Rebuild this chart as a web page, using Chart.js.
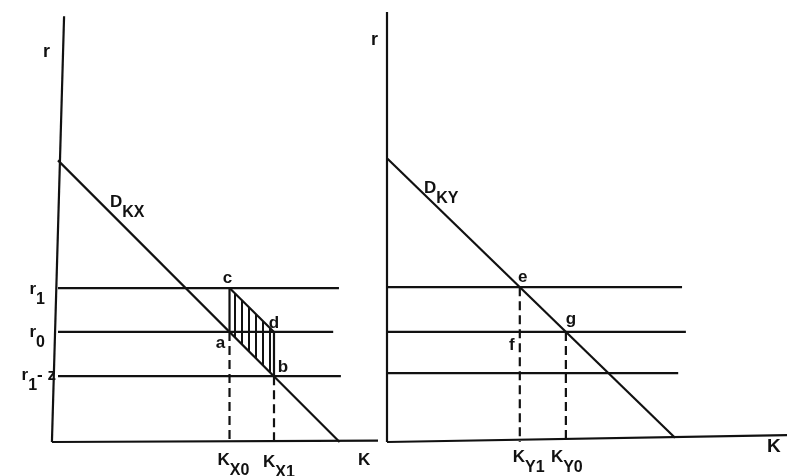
<!DOCTYPE html>
<html>
<head>
<meta charset="utf-8">
<script src="https://cdn.jsdelivr.net/npm/chart.js@4/dist/chart.umd.min.js"></script>
<style>
    html, body { margin: 0; padding: 0; background: #fff; }
    .panel { position: absolute; top: 0; }
    #left { left: 0; width: 394px; height: 476px; }
    #right { left: 360px; width: 428px; height: 476px; }
</style>
</head>
<body>
<div class="panel" id="left"><canvas id="chartX" width="394" height="476"></canvas></div>
<div class="panel" id="right"><canvas id="chartY" width="428" height="476"></canvas></div>
<script>
// left panel, industry X (K on x, r on y)
const xAxisV = [[-0.19, 0], [0.19, 9.9]];
const xAxisH = [[-0.19, 0], [10, 0.03]];
const xRLevels = [3.58, 2.56, 1.53];      // r1, r0, r1 - z
const xRLineEnds = [8.78, 8.6, 8.84];
const xDemand = [[0, 6.55], [8.8, 0]];    // D_KX
const xK = [5.36, 6.75];                  // K_X0, K_X1

// right panel, industry Y
const yAxisV = [[0, 0], [0, 10]];
const yAxisH = [[0, 0], [12.5, 0.16]];
const yRLevels = [3.6, 2.56, 1.6];
const yRLineEnds = [9.22, 9.34, 9.1];
const yDemand = [[0, 6.6], [9.0, 0.1]];   // D_KY
const yK = [4.15, 5.59];                  // K_Y1, K_Y0

const INK = '#111';
const FONT = '"Liberation Sans", Arial, sans-serif';

function pts(list) {
    return list.map((p) => ({ x: p[0], y: p[1] }));
}

function seg(data, opts) {
    return Object.assign({
        data: pts(data),
        showLine: true,
        borderColor: INK,
        borderWidth: 2.2,
        pointRadius: 0,
        fill: false,
        clip: false,
    }, opts || {});
}

function hatchPattern() {
    const pc = document.createElement('canvas');
    pc.width = 7;
    pc.height = 8;
    const c = pc.getContext('2d');
    c.fillStyle = INK;
    c.fillRect(3, 0, 2, 8);
    return c.createPattern(pc, 'repeat');
}

// labels: anchor in data units, pixel nudge, then text parts [text, isSub]
const labelPlugin = {
    id: 'labels',
    afterDatasetsDraw(chart, args, opts) {
        const ctx = chart.ctx;
        const { x, y } = chart.scales;
        ctx.save();
        ctx.fillStyle = INK;
        ctx.textBaseline = 'alphabetic';
        ctx.textAlign = 'left';
        opts.items.forEach((it) => {
            const size = it.size || 17;
            const main = `bold ${size}px ${FONT}`;
            const sub = `bold ${size - 1}px ${FONT}`;
            let total = 0;
            it.parts.forEach((p) => {
                ctx.font = p[1] ? sub : main;
                total += ctx.measureText(p[0]).width;
            });
            let px = x.getPixelForValue(it.at[0]) + it.dx;
            const py = y.getPixelForValue(it.at[1]) + it.dy;
            if (it.align === 'center') px -= total / 2;
            if (it.align === 'right') px -= total;
            it.parts.forEach((p) => {
                ctx.font = p[1] ? sub : main;
                ctx.fillText(p[0], px, py + (p[1] ? 10 : 0));
                px += ctx.measureText(p[0]).width;
            });
        });
        ctx.restore();
    },
};

function baseOptions(xMax, labels) {
    return {
        responsive: false,
        animation: false,
        events: [],
        layout: { padding: 0 },
        scales: {
            x: { type: 'linear', min: -0.5, max: xMax, display: false },
            y: { type: 'linear', min: 0, max: 10, display: false },
        },
        plugins: {
            legend: { display: false },
            tooltip: { enabled: false },
            labels: { items: labels },
        },
    };
}

function initLeft() {
    const [r1, r0, r1z] = xRLevels;
    const [k0, k1] = xK;
    const dashed = { borderDash: [9, 5] };
    const datasets = [
        seg(xAxisV),
        seg(xAxisH),
        seg(xDemand),
        ...xRLevels.map((r, i) => seg([[0, r], [xRLineEnds[i], r]])),
        seg([[k0, r1], [k1, r0]], { fill: '+1', backgroundColor: hatchPattern() }),
        seg([[k0, r0], [k1, r1z]], { borderWidth: 0 }),
        seg([[k0, r1], [k0, r0]]),
        seg([[k1, r0], [k1, r1z]]),
        seg([[k0, r0], [k0, 0]], dashed),
        seg([[k1, r1z], [k1, 0]], dashed),
    ];
    const labels = [
        { at: xAxisV[1], dx: -21, dy: 41, size: 18, parts: [['r', 0]] },
        { at: [0, r1], dx: -13, dy: 6, align: 'right', parts: [['r', 0], ['1', 1]] },
        { at: [0, r0], dx: -13, dy: 5, align: 'right', parts: [['r', 0], ['0', 1]] },
        { at: [0, r1z], dx: -2, dy: 4, align: 'right', parts: [['r', 0], ['1', 1], ['- z', 0]] },
        { at: xDemand[0], dx: 52, dy: 47, parts: [['D', 0], ['KX', 1]] },
        { at: [k0, r1], dx: -2, dy: -5, align: 'center', parts: [['c', 0]] },
        { at: [k1, r0], dx: 0, dy: -4, align: 'center', parts: [['d', 0]] },
        { at: [k0, r0], dx: -9, dy: 16, align: 'center', parts: [['a', 0]] },
        { at: [k1, r1z], dx: 9, dy: -4, align: 'center', parts: [['b', 0]] },
        { at: [k0, 0], dx: -12, dy: 23, parts: [['K', 0], ['X0', 1]] },
        { at: [k1, 0], dx: -11, dy: 25, parts: [['K', 0], ['X1', 1]] },
        { at: xAxisH[1], dx: -20, dy: 24, parts: [['K', 0]] },
    ];
    const options = baseOptions(10, labels);
    options.layout.padding = { left: 42, right: 16, top: 12, bottom: 34 };
    new Chart(document.getElementById('chartX'), {
        type: 'scatter',
        data: { datasets },
        options,
        plugins: [labelPlugin],
    });
}

function initRight() {
    const [r1, r0] = yRLevels;
    const [k1, k0] = yK;
    const dashed = { borderDash: [9, 5] };
    const datasets = [
        seg(yAxisV),
        seg(yAxisH),
        seg(yDemand),
        ...yRLevels.map((r, i) => seg([[0, r], [yRLineEnds[i], r]])),
        seg([[k1, r1], [k1, 0]], dashed),
        seg([[k0, r0], [k0, 0.07]], dashed),
    ];
    const labels = [
        { at: yAxisV[1], dx: -16, dy: 33, size: 18, parts: [['r', 0]] },
        { at: yDemand[0], dx: 37, dy: 35, parts: [['D', 0], ['KY', 1]] },
        { at: [k1, r1], dx: 3, dy: -5, align: 'center', parts: [['e', 0]] },
        { at: [k0, r0], dx: 5, dy: -8, align: 'center', parts: [['g', 0]] },
        { at: [k1, r0], dx: -8, dy: 18, align: 'center', parts: [['f', 0]] },
        { at: [k1, 0], dx: -7, dy: 20, parts: [['K', 0], ['Y1', 1]] },
        { at: [k0, 0], dx: -15, dy: 20, parts: [['K', 0], ['Y0', 1]] },
        { at: yAxisH[1], dx: -20, dy: 17, size: 19, parts: [['K', 0]] },
    ];
    const options = baseOptions(12.5, labels);
    options.layout.padding = { left: 11, right: 1, top: 12, bottom: 34 };
    new Chart(document.getElementById('chartY'), {
        type: 'scatter',
        data: { datasets },
        options,
        plugins: [labelPlugin],
    });
}

initLeft();
initRight();
</script>
</body>
</html>
